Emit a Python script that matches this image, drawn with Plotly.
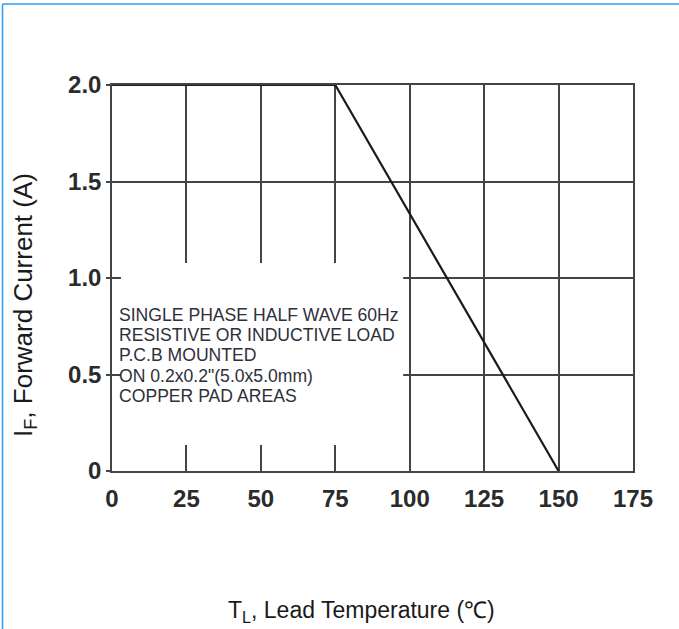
import plotly.graph_objects as go

# Data
temp_c = [0, 75, 150]
current_a = [2.0, 2.0, 0.0]
x_ticks = [0, 25, 50, 75, 100, 125, 150, 175]
y_ticks = [0, 0.5, 1.0, 1.5, 2.0]
y_tick_labels = ["0", "0.5", "1.0", "1.5", "2.0"]
note_lines = [
    "SINGLE PHASE HALF WAVE 60Hz",
    "RESISTIVE OR INDUCTIVE LOAD",
    "P.C.B MOUNTED",
    "ON 0.2x0.2\"(5.0x5.0mm)",
    "COPPER PAD AREAS",
]

W, H = 679, 629
L, R, T, B = 112, 633, 85, 471  # plot area pixels


def px(xp):
    return (xp - L) / (R - L)


def py(yp):
    return (B - yp) / (B - T)


grid_col = "#444444"
fig = go.Figure()
fig.add_trace(go.Scatter(x=temp_c, y=current_a, mode="lines",
                         line=dict(color="#1a1a1a", width=2.2),
                         hoverinfo="skip", showlegend=False))

tick_font = dict(family="Liberation Sans", size=24, color="#2b2b2b", weight="bold")
fig.update_layout(
    width=W, height=H,
    margin=dict(l=L, r=W - R, t=T, b=H - B, autoexpand=False),
    paper_bgcolor="white", plot_bgcolor="white",
    showlegend=False,
    xaxis=dict(range=[0, 175], tickvals=x_ticks, showgrid=True,
               gridcolor=grid_col, gridwidth=1.5, zeroline=False,
               showline=True, linecolor=grid_col, linewidth=1.5, mirror=True,
               ticks="", ticklabelstandoff=5, tickfont=tick_font),
    yaxis=dict(range=[0, 2.0], tickvals=y_ticks, ticktext=y_tick_labels,
               showgrid=True, gridcolor=grid_col, gridwidth=1.5, zeroline=False,
               showline=True, linecolor=grid_col, linewidth=1.5, mirror=True,
               ticks="outside", ticklen=4, tickcolor=grid_col, tickwidth=1.5,
               tickfont=tick_font),
)

# white box breaking the grid behind the note
fig.add_shape(type="rect", xref="x", yref="y", x0=3.0, x1=97.8, y0=0.135, y1=1.078,
              fillcolor="white", line=dict(width=0), layer="above")

# note, one annotation per line for tight line spacing
for i, line in enumerate(note_lines):
    fig.add_annotation(xref="paper", yref="paper", x=px(117), y=py(314.5 + 20.4 * i),
                       xanchor="left", yanchor="middle", align="left", showarrow=False,
                       text=line,
                       font=dict(family="Liberation Sans", size=17.6, color="#2f2f3a"))

# axis titles
fig.add_annotation(xref="paper", yref="paper", x=px(24), y=py(305), textangle=-90,
                   xanchor="center", yanchor="middle", showarrow=False,
                   text="I<sub>F</sub>, Forward Current (A)",
                   font=dict(family="Liberation Sans", size=26, color="#1a1a1a"))
fig.add_annotation(xref="paper", yref="paper", x=px(361), y=py(611),
                   xanchor="center", yanchor="middle", showarrow=False,
                   text="T<sub>L</sub>, Lead Temperature (℃)",
                   font=dict(family="Liberation Sans", size=23, color="#1a1a1a"))

# blue frame (top and left edges)
blue = "#2a9df4"
fig.add_shape(type="line", xref="paper", yref="paper", x0=px(2.5), x1=px(W + 5),
              y0=py(4), y1=py(4), line=dict(color=blue, width=1.5), layer="above")
fig.add_shape(type="line", xref="paper", yref="paper", x0=px(2.5), x1=px(2.5),
              y0=py(4), y1=py(H + 5), line=dict(color=blue, width=1.5), layer="above")

fig.write_html("out.html", config={"displayModeBar": False},
               post_script="document.body.style.margin='0';document.body.style.overflow='hidden';")
